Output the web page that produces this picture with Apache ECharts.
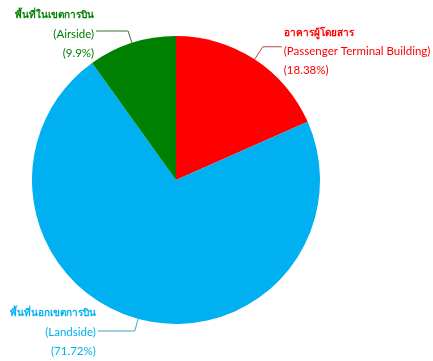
<!DOCTYPE html>
<html><head><meta charset="utf-8">
<script src="https://cdn.jsdelivr.net/npm/echarts@6/dist/echarts.min.js"></script>
<style>html,body{margin:0;padding:0;background:#fff}#c{width:433px;height:361px}</style>
</head><body><div id="c"></div>
<script>
var thaiNames = ['อาคารผู้โดยสาร', 'พื้นที่นอกเขตการบิน', 'พื้นที่ในเขตการบิน'];
var engNames = ['Passenger Terminal Building', 'Landside', 'Airside'];
var values = [18.38, 71.72, 9.9];
var colors = ['#ff0000', '#00b0f0', '#008000'];
var lineColors = ['#b04a40', '#4a9ec0', '#3a6e3a'];
var aligns = ['left', 'right', 'right'];
var lineLen = [15, 12.5, 12.5];
var lineLen2 = [19, 37, 32];
var padTop = [10, 2, 6];

var chart = echarts.init(document.getElementById('c'));
var FONT = 'Lato, "Noto Sans", sans-serif';
var data = values.map(function (v, i) {
  return {
    name: engNames[i], value: v,
    itemStyle: { color: colors[i] },
    labelLine: { length: lineLen[i], length2: lineLen2[i], lineStyle: { color: lineColors[i], width: 1 } },
    label: {
      color: colors[i],
      align: aligns[i],
      padding: [padTop[i], 0, 0, 0],
      formatter: '{t|' + thaiNames[i] + '}\n{e|(' + engNames[i] + ')}\n{p|(' + v + '%)}',
      rich: {
        t: { fontWeight: 'bold', fontSize: 10, fontFamily: FONT, color: colors[i], lineHeight: 19, align: aligns[i] },
        e: { fontSize: 11.5, fontFamily: FONT, color: colors[i], lineHeight: 19, align: aligns[i] },
        p: { fontSize: 11.5, fontFamily: FONT, color: colors[i], lineHeight: 19, align: aligns[i] }
      }
    }
  };
});

chart.setOption({
  animation: false,
  textStyle: { fontFamily: FONT },
  series: [{
    type: 'pie',
    center: [176, 180],
    radius: 144,
    startAngle: 90,
    clockwise: true,
    avoidLabelOverlap: false,
    label: { show: true, position: 'outside', distanceToLabelLine: 2, fontSize: 11, overflow: 'none' },
    labelLine: { show: true, smooth: false },
    data: data
  }]
});
</script></body></html>
